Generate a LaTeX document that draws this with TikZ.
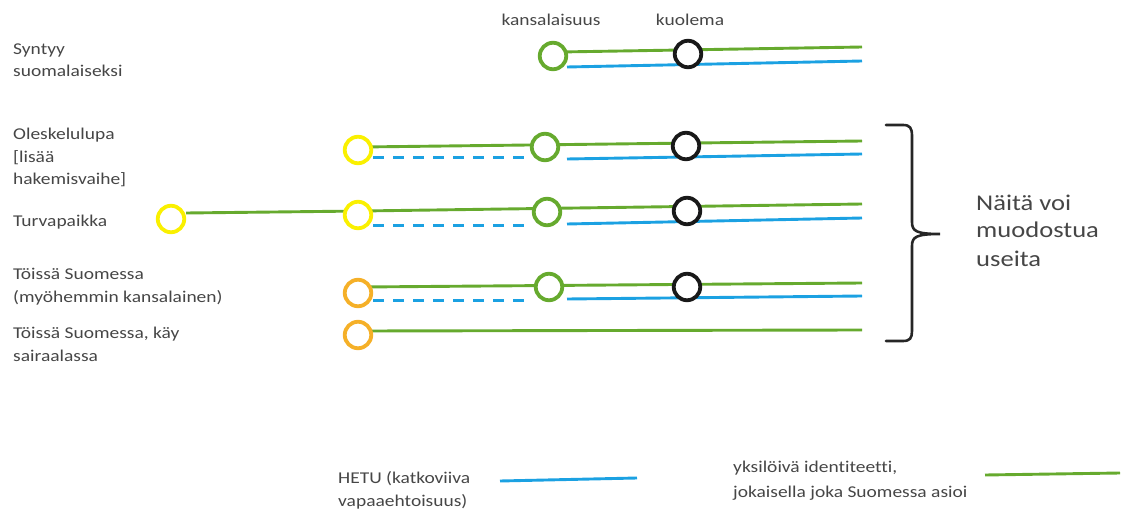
\documentclass[tikz,border=0pt]{standalone}
\usepackage{fontspec}
\setmainfont{Carlito}[FakeStretch=1.18,RawFeature=-liga]
\definecolor{lgreen}{RGB}{102,170,46}
\definecolor{lblue}{RGB}{27,161,226}
\definecolor{lyellow}{RGB}{250,240,0}
\definecolor{lorange}{RGB}{245,176,40}
\definecolor{txt}{RGB}{70,70,70}
\begin{document}
\begin{tikzpicture}[x=1pt,y=-1pt,
  dot/.style={circle,draw,line width=3.8pt,minimum size=26.5pt,inner sep=0pt,fill=white},
  gline/.style={draw=lgreen,line width=2.9pt},
  bline/.style={draw=lblue,line width=2.9pt},
  bdash/.style={draw=lblue,line width=3pt,dash pattern=on 11pt off 9pt},
  lbl/.style={anchor=base west,inner sep=0pt,text=txt,font=\fontsize{16.5}{22.5}\selectfont,align=left},
  toplbl/.style={anchor=base,inner sep=0pt,text=txt,font=\fontsize{16.5}{22.5}\selectfont},
  brace/.style={draw=black!85,line width=2.6pt,line cap=round}]
\useasboundingbox (0,0) rectangle (1130,513);

% left labels (base = last line)
\node[lbl] (l1) at (13,77) {Syntyy\\suomalaiseksi};
\node[lbl] (l2) at (13,185) {Oleskelulupa\\{[}lisää\\hakemisvaihe{]}};
\node[lbl] (l3) at (13,226) {Turvapaikka};
\node[lbl] (l4) at (13,302) {Töissä Suomessa\\(myöhemmin kansalainen)};
\node[lbl] (l5) at (13,361) {Töissä Suomessa, käy\\sairaalassa};

\node[toplbl] (tk) at (551,26) {kansalaisuus};
\node[toplbl] (tq) at (690,26) {kuolema};

% row 1
\coordinate (g1a) at (560,52); \coordinate (g1b) at (862,47);
\coordinate (b1a) at (567,67); \coordinate (b1b) at (862,61);
\draw[gline] (g1a) -- (g1b);
\draw[bline] (b1a) -- (b1b);
\node[dot,draw=lgreen] (c1) at (553,56) {};
\node[dot,draw=black!90] (d1) at (688,54) {};

% row 2
\coordinate (g2a) at (362,147); \coordinate (g2b) at (862,141);
\coordinate (b2a) at (373,158); \coordinate (b2b) at (528,158);
\coordinate (b2c) at (567,159); \coordinate (b2d) at (862,154);
\draw[gline] (g2a) -- (g2b);
\draw[bdash] (b2a) -- (b2b);
\draw[bline] (b2c) -- (b2d);
\node[dot,draw=lyellow] (y2) at (358,150) {};
\node[dot,draw=lgreen] (c2) at (545,147) {};
\node[dot,draw=black!90] (d2) at (686,146) {};

% row 3
\coordinate (g3a) at (362,211); \coordinate (g3b) at (862,204);
\coordinate (b3a) at (373,226); \coordinate (b3b) at (528,226);
\coordinate (b3c) at (567,224); \coordinate (b3d) at (862,218);
\node[dot,draw=lyellow] (y3a) at (171,219) {};
\draw[gline] (y3a.east) ++(0,-6) -- (g3a);
\draw[gline] (g3a) -- (g3b);
\draw[bdash] (b3a) -- (b3b);
\draw[bline] (b3c) -- (b3d);
\node[dot,draw=lyellow] (y3) at (358,215) {};
\node[dot,draw=lgreen] (c3) at (547,212) {};
\node[dot,draw=black!90] (d3) at (687,211) {};

% row 4
\coordinate (g4a) at (362,287); \coordinate (g4b) at (862,283);
\coordinate (b4a) at (373,300); \coordinate (b4b) at (533,300);
\coordinate (b4c) at (567,299); \coordinate (b4d) at (862,296);
\draw[gline] (g4a) -- (g4b);
\draw[bdash] (b4a) -- (b4b);
\draw[bline] (b4c) -- (b4d);
\node[dot,draw=lorange] (o4) at (358,293) {};
\node[dot,draw=lgreen] (c4) at (549,287) {};
\node[dot,draw=black!90] (d4) at (687,287) {};

% row 5
\coordinate (g5a) at (362,331); \coordinate (g5b) at (862,330);
\draw[gline] (g5a) -- (g5b);
\node[dot,draw=lorange] (o5) at (358,335) {};

% brace
\coordinate (bt) at (886,125);
\coordinate (bb) at (886,341);
\coordinate (btip) at (940,234);
\draw[brace] (bt) -- (903,125) .. controls (910,125) and (912,128) .. (912,136)
  -- (912,222) .. controls (912,231) and (916,234) .. (btip)
  .. controls (916,234) and (912,237) .. (912,246)
  -- (912,331) .. controls (912,338) and (910,341) .. (903,341) -- (bb);
\node[lbl,font=\fontsize{22.5}{28}\selectfont] (nt) at (976,266) {Näitä voi\\muodostua\\useita};

% legend
\node[lbl] (h1) at (338,506) {HETU (katkoviiva\\vapaaehtoisuus)};
\coordinate (hb1) at (500,481); \coordinate (hb2) at (637,478);
\draw[bline] (hb1) -- (hb2);
\node[lbl,font=\fontsize{16.5}{25}\selectfont] (y1) at (733,497) {yksilöivä identiteetti,\\jokaisella joka Suomessa asioi};
\coordinate (hg1) at (985,475); \coordinate (hg2) at (1120,473);
\draw[gline] (hg1) -- (hg2);
\end{tikzpicture}
\end{document}
